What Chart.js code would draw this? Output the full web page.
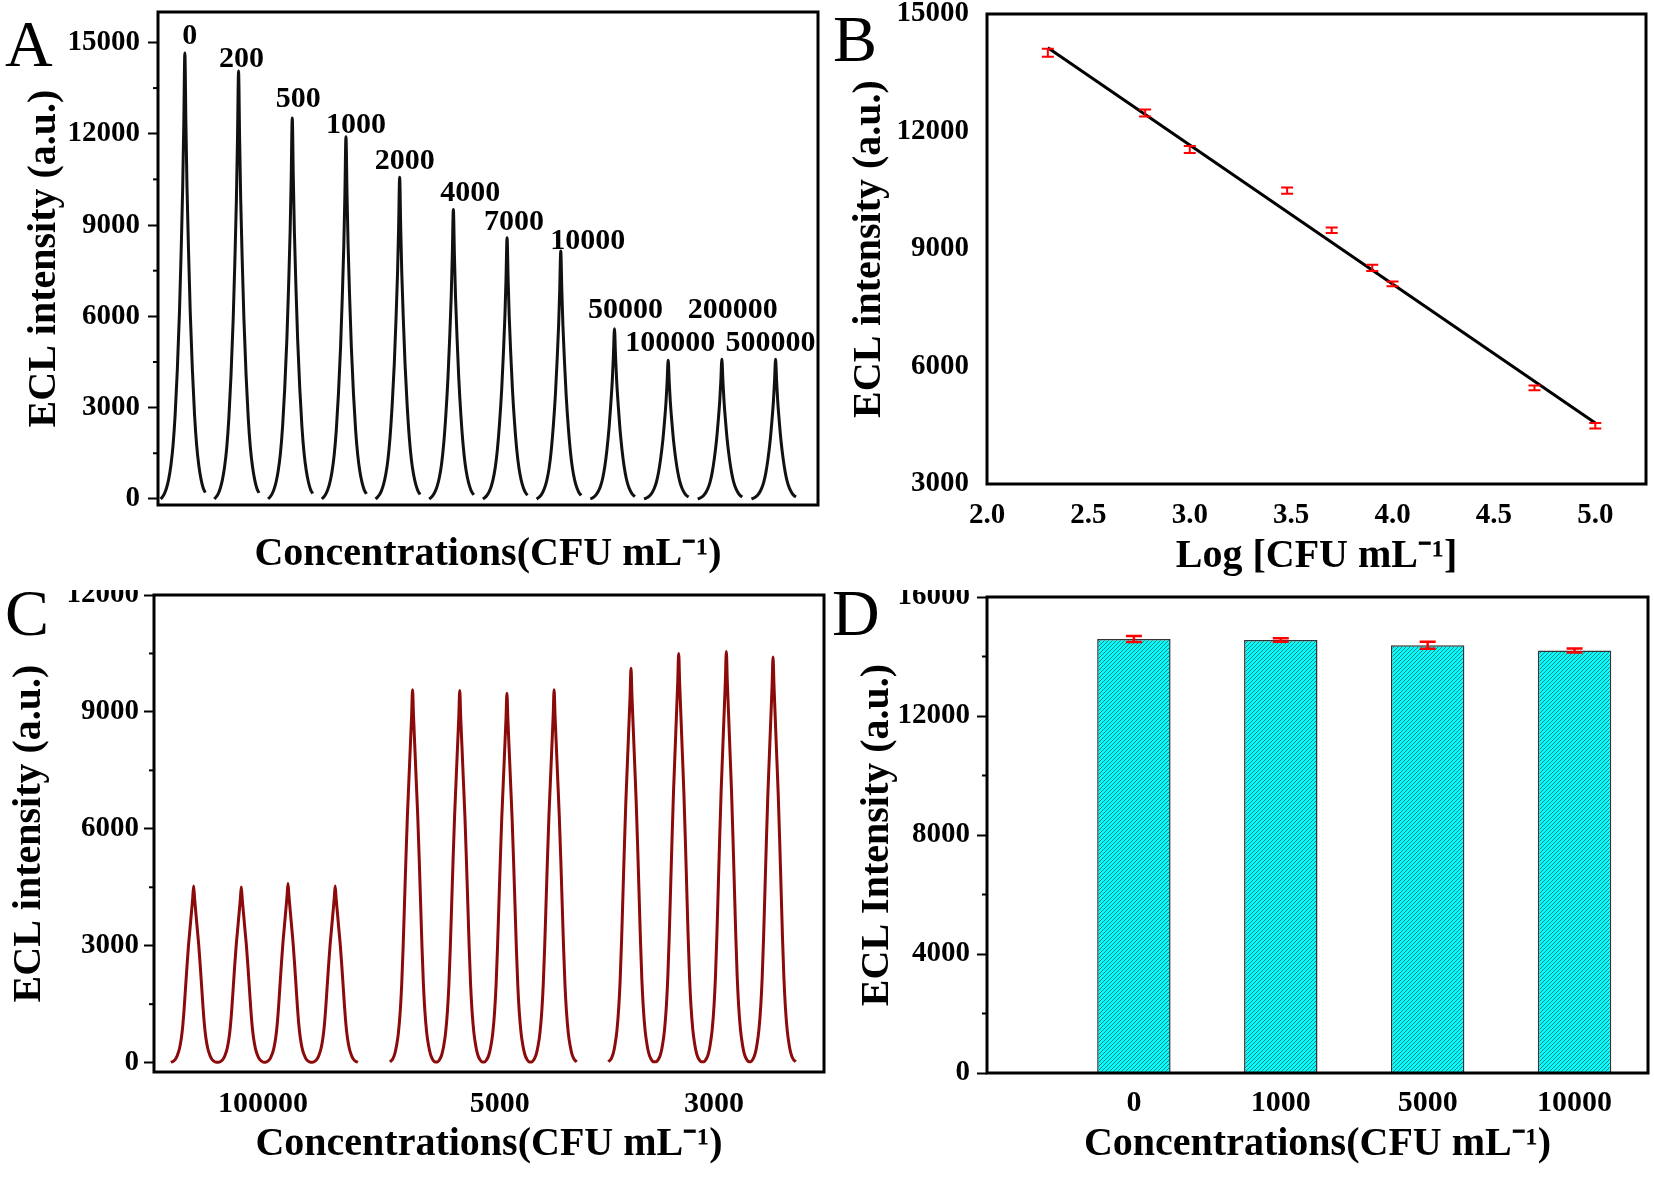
<!DOCTYPE html>
<html><head><meta charset="utf-8">
<script src="https://cdn.jsdelivr.net/npm/chart.js@4.4.1/dist/chart.umd.min.js"></script>
<style>
html,body{margin:0;padding:0;background:#fff;}
body{width:1654px;height:1180px;position:relative;overflow:hidden;}
.q{position:absolute;width:827px;height:590px;overflow:hidden;}
.q canvas{position:absolute;left:0;top:0;width:827px;height:590px;}
.lbl{position:absolute;font-family:"Liberation Serif","Times New Roman",serif;font-size:66px;line-height:1;color:#000;}
</style></head><body>
<div class="q" style="left:0;top:0"><canvas id="cA" width="827" height="590"></canvas><div class="lbl" style="left:5px;top:11px">A</div></div>
<div class="q" style="left:827px;top:0"><canvas id="cB" width="827" height="590"></canvas><div class="lbl" style="left:6px;top:6px">B</div></div>
<div class="q" style="left:0;top:590px"><canvas id="cC" width="827" height="590"></canvas><div class="lbl" style="left:5px;top:-10px">C</div></div>
<div class="q" style="left:827px;top:590px"><canvas id="cD" width="827" height="590"></canvas><div class="lbl" style="left:5px;top:-10px">D</div></div>
<script>
// ---------------- data ----------------
// Panel A: ECL peaks for each concentration
const A_LABELS = ['0','200','500','1000','2000','4000','7000','10000','50000','100000','200000','500000'];
const A_PEAK_POS = [0,1,2,3,4,5,6,7,8,9,10,11];
const A_PEAK_HEIGHT = [14650,14060,12520,11900,10570,9510,8580,8150,5590,4560,4590,4590];
const A_YTICKS = [0,3000,6000,9000,12000,15000];
// normalised peak shape (offset in peak spacings, fraction of peak height)
const A_PROFILE_T = [-0.45,-0.42,-0.38,-0.34,-0.30,-0.26,-0.22,-0.18,-0.14,-0.10,-0.07,-0.04,-0.02,0,0.02,0.04,0.07,0.10,0.14,0.18,0.22,0.26,0.30,0.34,0.38];
const A_PROFILE_F = [0,0.004,0.012,0.025,0.045,0.075,0.12,0.19,0.29,0.42,0.55,0.7,0.84,1,0.84,0.7,0.55,0.42,0.29,0.19,0.12,0.075,0.045,0.025,0.014];

// Panel B: calibration
const B_LOGC = [2.30,2.78,3.00,3.48,3.70,3.90,4.00,4.70,5.00];
const B_ECL = [14010,12470,11540,10490,9480,8520,8110,5455,4490];
const B_ERR = [100,90,90,80,70,80,60,60,70];
const B_FIT_X = [2.30,5.00];
const B_FIT_Y = [14140,4555];
const B_XTICKS = [2.0,2.5,3.0,3.5,4.0,4.5,5.0];
const B_YTICKS = [3000,6000,9000,12000,15000];

// Panel C: repeated scans at three concentrations
const C_GROUP_LABELS = ['100000','5000','3000'];
const C_TICK_POS = [1.47,6.49,11.03];
const C_PEAK_POS = [[0,1.01,2,3],[4.64,5.64,6.64,7.64],[9.27,10.28,11.29,12.28]];
const C_PEAK_HEIGHT = [[4530,4510,4600,4530],[9570,9550,9480,9570],[10120,10500,10550,10410]];
const C_YTICKS = [0,3000,6000,9000,12000];
const C_PROFILE_T = [-0.48,-0.42,-0.38,-0.34,-0.30,-0.26,-0.23,-0.20,-0.17,-0.14,-0.11,-0.08,-0.05,-0.02,0,0.02,0.05,0.08,0.11,0.14,0.17,0.20,0.23,0.26,0.30,0.34,0.38,0.42,0.48];
const C_PROFILE_F = [0.002,0.01,0.022,0.045,0.08,0.14,0.21,0.31,0.43,0.55,0.66,0.75,0.84,0.93,1,0.93,0.84,0.75,0.66,0.55,0.43,0.31,0.21,0.14,0.08,0.045,0.022,0.01,0.002];

// Panel D: bars
const D_LABELS = ['0','1000','5000','10000'];
const D_VALUES = [14590,14555,14380,14200];
const D_ERR = [100,60,120,65];
const D_YTICKS = [0,4000,8000,12000,16000];

// ---------------- helpers ----------------
const FAM = '"Liberation Serif","Times New Roman",serif';
Chart.defaults.font.family = FAM;
Chart.defaults.color = '#000';
const tickFont = {family: FAM, size: 29, weight: 'bold'};
const titleFont = {family: FAM, size: 40, weight: 'bold'};

const frameBox = {
  id: 'frameBox',
  afterDraw(chart, args, opts) {
    const {ctx, chartArea: a} = chart;
    ctx.save();
    ctx.strokeStyle = '#000';
    ctx.lineWidth = opts.width || 3;
    ctx.strokeRect(a.left, a.top, a.right - a.left, a.bottom - a.top);
    ctx.restore();
  }
};
const minorTicks = {
  id: 'minorTicks',
  afterDraw(chart, args, opts) {
    if (!opts || !opts.step) return;
    const s = chart.scales.y, ctx = chart.ctx;
    ctx.save();
    ctx.strokeStyle = '#000';
    ctx.lineWidth = 2;
    for (let v = opts.start; v <= s.max; v += opts.step) {
      const y = s.getPixelForValue(v);
      ctx.beginPath();
      ctx.moveTo(chart.chartArea.left, y);
      ctx.lineTo(chart.chartArea.left - opts.length, y);
      ctx.stroke();
    }
    ctx.restore();
  }
};
const errorBars = {
  id: 'errorBars',
  afterDatasetsDraw(chart, args, opts) {
    if (!opts || !opts.errors) return;
    const meta = chart.getDatasetMeta(opts.datasetIndex);
    const ds = chart.data.datasets[opts.datasetIndex];
    const ys = chart.scales.y, ctx = chart.ctx;
    ctx.save();
    ctx.strokeStyle = opts.color || '#ff0000';
    ctx.lineWidth = opts.lineWidth || 2;
    meta.data.forEach((el, i) => {
      const v = ds.data[i].y, e = opts.errors[i];
      const x = el.x, y1 = ys.getPixelForValue(v - e), y2 = ys.getPixelForValue(v + e);
      const h = opts.capHalf;
      ctx.beginPath();
      ctx.moveTo(x, y1); ctx.lineTo(x, y2);
      ctx.moveTo(x - h, y1); ctx.lineTo(x + h, y1);
      ctx.moveTo(x - h, y2); ctx.lineTo(x + h, y2);
      ctx.stroke();
    });
    ctx.restore();
  }
};
const peakLabels = {
  id: 'peakLabels',
  afterDatasetsDraw(chart, args, opts) {
    if (!opts || !opts.labels) return;
    const {ctx, scales: {x, y}} = chart;
    ctx.save();
    ctx.font = opts.font;
    ctx.fillStyle = '#000';
    ctx.textAlign = 'center';
    ctx.textBaseline = 'alphabetic';
    opts.labels.forEach((t, i) => {
      ctx.fillText(t, x.getPixelForValue(opts.xs[i]) + opts.dx[i], y.getPixelForValue(opts.ys[i]) - opts.dy[i]);
    });
    ctx.restore();
  }
};

function yAxis(o) {
  return {
    min: o.min, max: o.max,
    afterBuildTicks(s) { s.ticks = o.values.map(v => ({value: v})); },
    ticks: {font: tickFont, color: '#000', padding: o.pad, autoSkip: false, callback: v => String(v)},
    grid: {display: o.ticks, drawOnChartArea: false, drawTicks: o.ticks, tickLength: 10, tickWidth: 2, tickColor: '#000'},
    border: {display: false},
    title: {display: true, text: o.title, font: titleFont, color: '#000', padding: {top: o.tpad, bottom: 0}},
    afterFit(s) { s.width = o.width; s.paddingTop = 0; s.paddingBottom = 0; }
  };
}
function xTitle(text, pb) {
  return {display: true, text: text, font: titleFont, color: '#000', padding: {top: 0, bottom: pb}};
}
const common = {responsive: false, animation: false, events: []};

// ---------------- Panel A ----------------
const aPoints = [];
A_PEAK_POS.forEach((p, i) => {
  A_PROFILE_T.forEach((t, j) => aPoints.push({x: p + t, y: A_PROFILE_F[j] * A_PEAK_HEIGHT[i]}));
  aPoints.push({x: p + 0.45, y: null});
});
new Chart(document.getElementById('cA'), {
  type: 'line',
  data: {datasets: [{data: aPoints, borderColor: '#111', borderWidth: 3, pointRadius: 0, spanGaps: false,
                     cubicInterpolationMode: 'monotone', fill: false}]},
  options: {...common,
    layout: {padding: {top: 12, right: 9, left: 0, bottom: 0}},
    plugins: {legend: {display: false}, tooltip: {enabled: false},
      frameBox: {width: 3}, minorTicks: {start: 1500, step: 3000, length: 5},
      peakLabels: {labels: A_LABELS, xs: A_PEAK_POS, ys: A_PEAK_HEIGHT, font: 'bold 30px ' + FAM,
                   dx: [5,3,6,10,5,17,7,27,11,2,11,-5], dy: [9,4,11,4,8,9,8,2,11,9,41,8]}},
    scales: {
      x: {type: 'linear', min: -0.5, max: 11.79, ticks: {display: false}, grid: {display: false, drawTicks: false},
          border: {display: false}, title: xTitle('Concentrations(CFU mL⁻¹)', 11),
          afterFit(s) { s.height = 85; s.paddingLeft = 0; s.paddingRight = 0; }},
      y: yAxis({min: -200, max: 16000, values: A_YTICKS, pad: 8, ticks: true, title: 'ECL intensity (a.u.)', tpad: 21, width: 158})
    }
  },
  plugins: [frameBox, minorTicks, peakLabels]
});

// ---------------- Panel B ----------------
new Chart(document.getElementById('cB'), {
  type: 'scatter',
  data: {datasets: [
    {data: B_LOGC.map((x, i) => ({x: x, y: B_ECL[i]})), pointRadius: 0, showLine: false},
    {type: 'line', data: B_FIT_X.map((x, i) => ({x: x, y: B_FIT_Y[i]})), borderColor: '#000', borderWidth: 3, pointRadius: 0, fill: false}
  ]},
  options: {...common,
    layout: {padding: {top: 14, right: 8, left: 0, bottom: 0}},
    plugins: {legend: {display: false}, tooltip: {enabled: false}, frameBox: {width: 3},
      errorBars: {datasetIndex: 0, errors: B_ERR, capHalf: 6, color: '#ff0000', lineWidth: 2}},
    scales: {
      x: {type: 'linear', min: 2.0, max: 5.25,
          ticks: {font: tickFont, color: '#000', padding: 14, maxRotation: 0, autoSkip: false,
                  callback: v => Number(v).toFixed(1)},
          afterBuildTicks(s) { s.ticks = B_XTICKS.map(v => ({value: v})); },
          grid: {display: false, drawTicks: false}, border: {display: false},
          title: xTitle('Log [CFU mL⁻¹]', 9),
          afterFit(s) { s.height = 106; s.paddingLeft = 0; s.paddingRight = 0; }},
      y: yAxis({min: 3000, max: 15000, values: B_YTICKS, pad: 18, ticks: false, title: 'ECL intensity (a.u.)', tpad: 19, width: 160})
    }
  },
  plugins: [frameBox, errorBars]
});

// ---------------- Panel C ----------------
const cPoints = [];
C_PEAK_POS.forEach((grp, g) => {
  grp.forEach((p, k) => {
    C_PROFILE_T.forEach((t, j) => cPoints.push({x: p + t, y: C_PROFILE_F[j] * C_PEAK_HEIGHT[g][k]}));
  });
  cPoints.push({x: grp[grp.length - 1] + 0.55, y: null});
});
new Chart(document.getElementById('cC'), {
  type: 'line',
  data: {datasets: [{data: cPoints, borderColor: '#8B0A0A', borderWidth: 3, pointRadius: 0, spanGaps: false,
                     cubicInterpolationMode: 'monotone', fill: false}]},
  options: {...common,
    layout: {padding: {top: 5, right: 3, left: 0, bottom: 0}},
    plugins: {legend: {display: false}, tooltip: {enabled: false}, frameBox: {width: 3},
      minorTicks: {start: 1500, step: 3000, length: 5}},
    scales: {
      x: {type: 'linear', min: -0.84, max: 13.36,
          ticks: {font: {family: FAM, size: 30, weight: 'bold'}, color: '#000', padding: 14, maxRotation: 0, autoSkip: false,
                  callback: (v, i) => C_GROUP_LABELS[i]},
          afterBuildTicks(s) { s.ticks = C_TICK_POS.map(v => ({value: v})); },
          grid: {display: false, drawTicks: false}, border: {display: false},
          title: xTitle('Concentrations(CFU mL⁻¹)', 11),
          afterFit(s) { s.height = 108; s.paddingLeft = 0; s.paddingRight = 0; }},
      y: yAxis({min: -240, max: 12000, values: C_YTICKS, pad: 5, ticks: true, title: 'ECL intensity (a.u.)', tpad: 6, width: 154})
    }
  },
  plugins: [frameBox, minorTicks]
});

// ---------------- Panel D ----------------
function hatch() {
  const c = document.createElement('canvas');
  c.width = 4; c.height = 4;
  const g = c.getContext('2d');
  g.fillStyle = '#00FFFF';
  g.fillRect(0, 0, 4, 4);
  g.strokeStyle = '#1a8080';
  g.lineWidth = 1.0;
  g.beginPath();
  g.moveTo(-1, 5); g.lineTo(5, -1);
  g.moveTo(-1, 1); g.lineTo(1, -1);
  g.moveTo(3, 5); g.lineTo(5, 3);
  g.stroke();
  return g.createPattern(c, 'repeat');
}
new Chart(document.getElementById('cD'), {
  type: 'bar',
  data: {datasets: [{data: D_VALUES.map((v, i) => ({x: i, y: v})), backgroundColor: hatch(),
                     borderColor: '#333', borderWidth: 1.5, barPercentage: 0.5, categoryPercentage: 1.0}]},
  options: {...common,
    layout: {padding: {top: 7, right: 6, left: 0, bottom: 0}},
    plugins: {legend: {display: false}, tooltip: {enabled: false}, frameBox: {width: 3},
      minorTicks: {start: 2000, step: 4000, length: 5},
      errorBars: {datasetIndex: 0, errors: D_ERR, capHalf: 8, color: '#ff0000', lineWidth: 2.5}},
    scales: {
      x: {type: 'linear', min: -1, max: 3.5, offset: false,
          afterBuildTicks(s) { s.ticks = D_LABELS.map((l, i) => ({value: i})); },
          ticks: {font: {family: FAM, size: 30, weight: 'bold'}, color: '#000', padding: 12,
                  maxRotation: 0, autoSkip: false,
                  callback: (v, i) => D_LABELS[i]},
          grid: {display: false, drawTicks: false, offset: false}, border: {display: false},
          title: xTitle('Concentrations(CFU mL⁻¹)', 11),
          afterFit(s) { s.height = 107; s.paddingLeft = 0; s.paddingRight = 0; }},
      y: yAxis({min: 0, max: 16000, values: D_YTICKS, pad: 7, ticks: true, title: 'ECL Intensity (a.u.)', tpad: 27, width: 160})
    }
  },
  plugins: [frameBox, minorTicks, errorBars]
});
</script>
</body></html>
